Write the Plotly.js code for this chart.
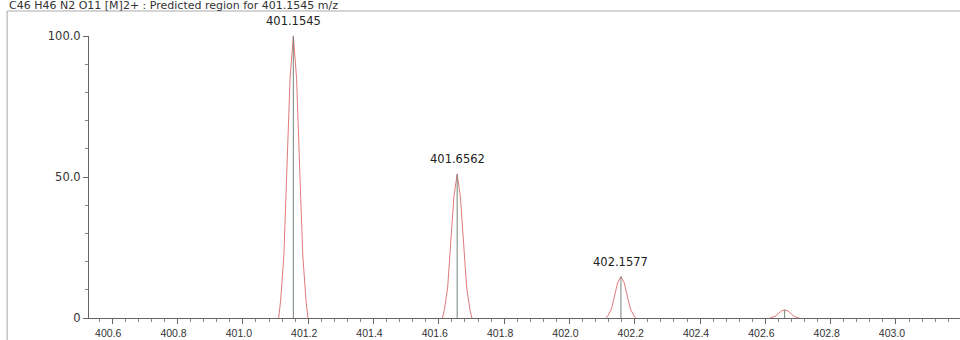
<!DOCTYPE html>
<html>
<head>
<meta charset="utf-8">
<script src="https://cdn.plot.ly/plotly-3.0.1.min.js"></script>
<style>html,body{margin:0;padding:0;background:#fff;}#chart{width:960px;height:340px;}</style>
</head>
<body>
<div id="chart"></div>
<script>
// Chart title
const chartTitle = "C46 H46 N2 O11 [M]2+ : Predicted region for 401.1545 m/z";

// Centroid (stick) peaks
const centroidMz = [401.1545, 401.6562, 402.1577, 402.659];
const centroidIntensity = [100, 51, 14.7, 2.9];
const centroidLabels = ["401.1545", "401.6562", "402.1577", ""];

// Profile traces
const peak1X = [401.1095, 401.1155, 401.1255, 401.1345, 401.1445, 401.1545, 401.1645, 401.1745, 401.1835, 401.1935, 401.1995];
const peak1Y = [0, 6, 22, 51, 85, 100, 85, 51, 22, 6, 0];
const peak2X = [401.6112, 401.6172, 401.6272, 401.6362, 401.6462, 401.6562, 401.6662, 401.6762, 401.6852, 401.6952, 401.7012];
const peak2Y = [0, 3, 11, 26, 43, 51, 43, 26, 11, 3, 0];
const peak3X = [402.1127, 402.1187, 402.1287, 402.1377, 402.1477, 402.1577, 402.1677, 402.1777, 402.1867, 402.1967, 402.2027];
const peak3Y = [0, 1, 3.2, 7.5, 12.5, 14.7, 12.5, 7.5, 3.2, 1, 0];
const peak4X = [402.614, 402.620, 402.630, 402.639, 402.649, 402.659, 402.669, 402.679, 402.688, 402.698, 402.704];
const peak4Y = [0, 0.2, 0.6, 1.5, 2.5, 2.9, 2.5, 1.5, 0.6, 0.2, 0];

// Axis ticks
const xTickVals = [400.6, 400.8, 401.0, 401.2, 401.4, 401.6, 401.8, 402.0, 402.2, 402.4, 402.6, 402.8, 403.0];
const xTickText = ["400.6", "400.8", "401.0", "401.2", "401.4", "401.6", "401.8", "402.0", "402.2", "402.4", "402.6", "402.8", "403.0"];
const yTickVals = [0, 50, 100];
const yTickText = ["0", "50.0", "100.0"];

const profileColor = "#e07a7a";
const stickColor = "#74857a";

const profiles = [[peak1X, peak1Y], [peak2X, peak2Y], [peak3X, peak3Y], [peak4X, peak4Y]];
const traces = profiles.map(p => ({
  x: p[0], y: p[1], type: "scatter", mode: "lines",
  line: {color: profileColor, width: 1}, hoverinfo: "skip", cliponaxis: false
}));

const sx = [], sy = [];
centroidMz.forEach((m, i) => { sx.push(m, m, null); sy.push(0, centroidIntensity[i], null); });
traces.push({x: sx, y: sy, type: "scatter", mode: "lines", line: {color: stickColor, width: 1}, hoverinfo: "skip"});

const annotations = centroidMz.map((m, i) => ({
  x: m, y: centroidIntensity[i], xref: "x", yref: "y", text: centroidLabels[i],
  showarrow: false, yanchor: "bottom", yshift: 6,
  font: {family: "DejaVu Sans", size: 11.5, color: "#222"}
})).filter(a => a.text !== "");

annotations.push({
  xref: "paper", yref: "paper", x: -0.094, y: 1.108, xanchor: "left", yanchor: "middle",
  text: chartTitle, showarrow: false,
  font: {family: "DejaVu Sans", size: 11, color: "#333"}
});

const layout = {
  width: 960, height: 340,
  margin: {l: 89, r: 0, t: 36, b: 22, pad: 0},
  paper_bgcolor: "#fff", plot_bgcolor: "#fff",
  showlegend: false,
  xaxis: {
    range: [400.5288, 403.196], showgrid: false, zeroline: false,
    showline: true, linecolor: "#666", linewidth: 1,
    tickmode: "array", tickvals: xTickVals, ticktext: xTickText,
    ticks: "outside", ticklen: 5, tickcolor: "#666",
    minor: {dtick: 0.04, tick0: 400.6, ticks: "outside", ticklen: 3, tickcolor: "#888", showgrid: false},
    tickfont: {family: "Liberation Sans, Arial", size: 10.5, color: "#333"},
    ticklabelshift: -4
  },
  yaxis: {
    range: [0, 100], showgrid: false, zeroline: false,
    showline: true, linecolor: "#666", linewidth: 1,
    tickmode: "array", tickvals: yTickVals, ticktext: yTickText,
    ticks: "outside", ticklen: 5, tickcolor: "#666",
    minor: {dtick: 10, ticks: "outside", ticklen: 3, tickcolor: "#888", showgrid: false},
    tickfont: {family: "DejaVu Sans", size: 11.5, color: "#333"}
  },
  shapes: [{
    type: "rect", xref: "paper", yref: "paper",
    x0: -0.094, x1: 1.05, y0: -0.2, y1: 1.0887,
    line: {color: "#aaa", width: 1}, fillcolor: "rgba(0,0,0,0)", layer: "below"
  }],
  annotations: annotations
};

Plotly.newPlot("chart", traces, layout, {displayModeBar: false, staticPlot: true});
</script>
</body>
</html>
